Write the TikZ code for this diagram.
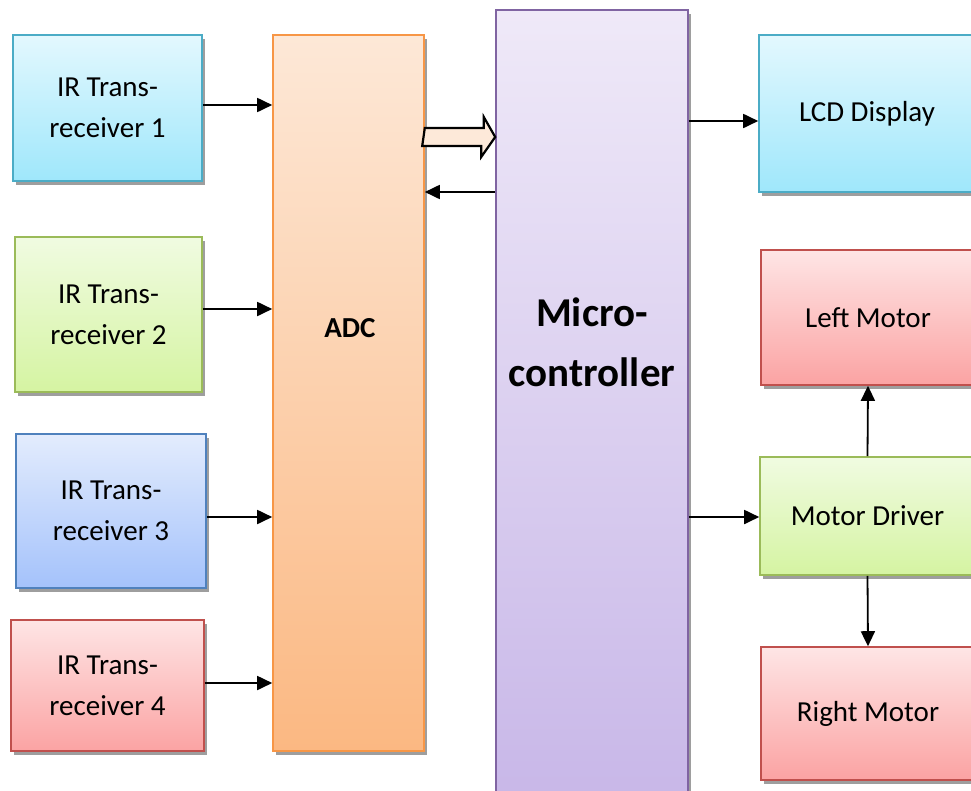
\documentclass[tikz,border=0pt]{standalone}
\usepackage{fontspec}
\setmainfont{Carlito}
\usetikzlibrary{arrows.meta,shadows,calc}
\definecolor{aquaT}{HTML}{E3F8FE}\definecolor{aquaB}{HTML}{9FE7FB}\definecolor{aquaD}{HTML}{4BACC6}
\definecolor{grnT}{HTML}{F0FBE1}\definecolor{grnB}{HTML}{D5F4A2}\definecolor{grnD}{HTML}{9BBB59}
\definecolor{bluT}{HTML}{E3ECFD}\definecolor{bluB}{HTML}{A4C2FB}\definecolor{bluD}{HTML}{4F81BD}
\definecolor{redT}{HTML}{FEE5E5}\definecolor{redB}{HTML}{FBA3A3}\definecolor{redD}{HTML}{C0504D}
\definecolor{orgT}{HTML}{FDE8D7}\definecolor{orgB}{HTML}{FBB882}\definecolor{orgD}{HTML}{F79646}
\definecolor{purT}{HTML}{EFE9F8}\definecolor{purB}{HTML}{C8B7E8}\definecolor{purD}{HTML}{8064A2}
\definecolor{blkfill}{HTML}{FDE9D9}
\tikzset{
  box/.style={rectangle, draw, line width=1.6pt, inner sep=0pt, align=center,
    font=\fontsize{29}{41}\selectfont,
    drop shadow={shadow xshift=3pt, shadow yshift=-4pt, fill=black!38, opacity=1}},
  aqua/.style={box, draw=aquaD, top color=aquaT, bottom color=aquaB},
  grn/.style={box, draw=grnD, top color=grnT, bottom color=grnB},
  blu/.style={box, draw=bluD, top color=bluT, bottom color=bluB},
  rd/.style={box, draw=redD, top color=redT, bottom color=redB},
  org/.style={box, draw=orgD, top color=orgT, bottom color=orgB, drop shadow={opacity=0}},
  pur/.style={box, draw=purD, top color=purT, bottom color=purB, drop shadow={opacity=0}},
  conn/.style={line width=1.8pt, -{Triangle[length=15pt,width=14pt]}},
  blockarrow/.style={draw=black, line width=2.2pt, fill=blkfill, line join=miter},
}
\begin{document}
\begin{tikzpicture}[x=1pt,y=-1pt]
\useasboundingbox (0,0) rectangle (971,790);
\clip (0,0) rectangle (971,790);
% left sensors
\node[aqua, minimum width=189pt, minimum height=146pt] (ir1) at (107.5,108) {IR Trans-\\receiver 1};
\node[grn, minimum width=187pt, minimum height=155pt] (ir2) at (108.5,314.5) {IR Trans-\\receiver 2};
\node[blu, minimum width=190pt, minimum height=154pt] (ir3) at (111,511) {IR Trans-\\receiver 3};
\node[rd, minimum width=193pt, minimum height=131pt] (ir4) at (107.5,685.5) {IR Trans-\\receiver 4};
% ADC
\node[org, minimum width=151pt, minimum height=716pt] (adc) at (348.5,393) {};
\node[font=\fontsize{29}{41}\selectfont\bfseries] (adclbl) at (350,328) {ADC};
% microcontroller
\node[pur, minimum width=192pt, minimum height=790pt] (mc) at (592,405) {};
\node[font=\fontsize{41}{60}\selectfont\bfseries, align=center] (mclbl) at (592,342) {Micro-\\controller};
% right side
\node[aqua, minimum width=216pt, minimum height=157pt] (lcd) at (867,113.5) {LCD Display};
\node[rd, minimum width=214pt, minimum height=135pt] (lm) at (868,317.5) {Left Motor};
\node[grn, minimum width=215pt, minimum height=118pt] (md) at (867.5,516) {Motor Driver};
\node[rd, minimum width=214pt, minimum height=133pt] (rm) at (868,713.5) {Right Motor};
% connectors
\draw[conn] (ir1.east |- 0,105) -- (adc.west |- 0,105);
\draw[conn] (ir2.east |- 0,309) -- (adc.west |- 0,309);
\draw[conn] (ir3.east |- 0,517) -- (adc.west |- 0,517);
\draw[conn] (ir4.east |- 0,683) -- (adc.west |- 0,683);
\draw[conn] (mc.west |- 0,192) -- (adc.east |- 0,192);
\draw[conn] (mc.east |- 0,121) -- (lcd.west |- 0,121);
\draw[conn] (mc.east |- 0,517) -- (md.west |- 0,517);
\draw[conn] (md.north) -- (lm.south);
\draw[conn] (md.south) -- (rm.north);
% block arrow ADC -> micro
\coordinate (ba1) at (adc.east |- 0,128);
\coordinate (ba2) at (mc.west |- 0,137);
\draw[blockarrow] (ba1) -- ++(59,0) -- ++(0,-11) -- (ba2) -- ++(-14,20) -- ++(0,-11) -- ++(-59,0) -- cycle;
\end{tikzpicture}
\end{document}
